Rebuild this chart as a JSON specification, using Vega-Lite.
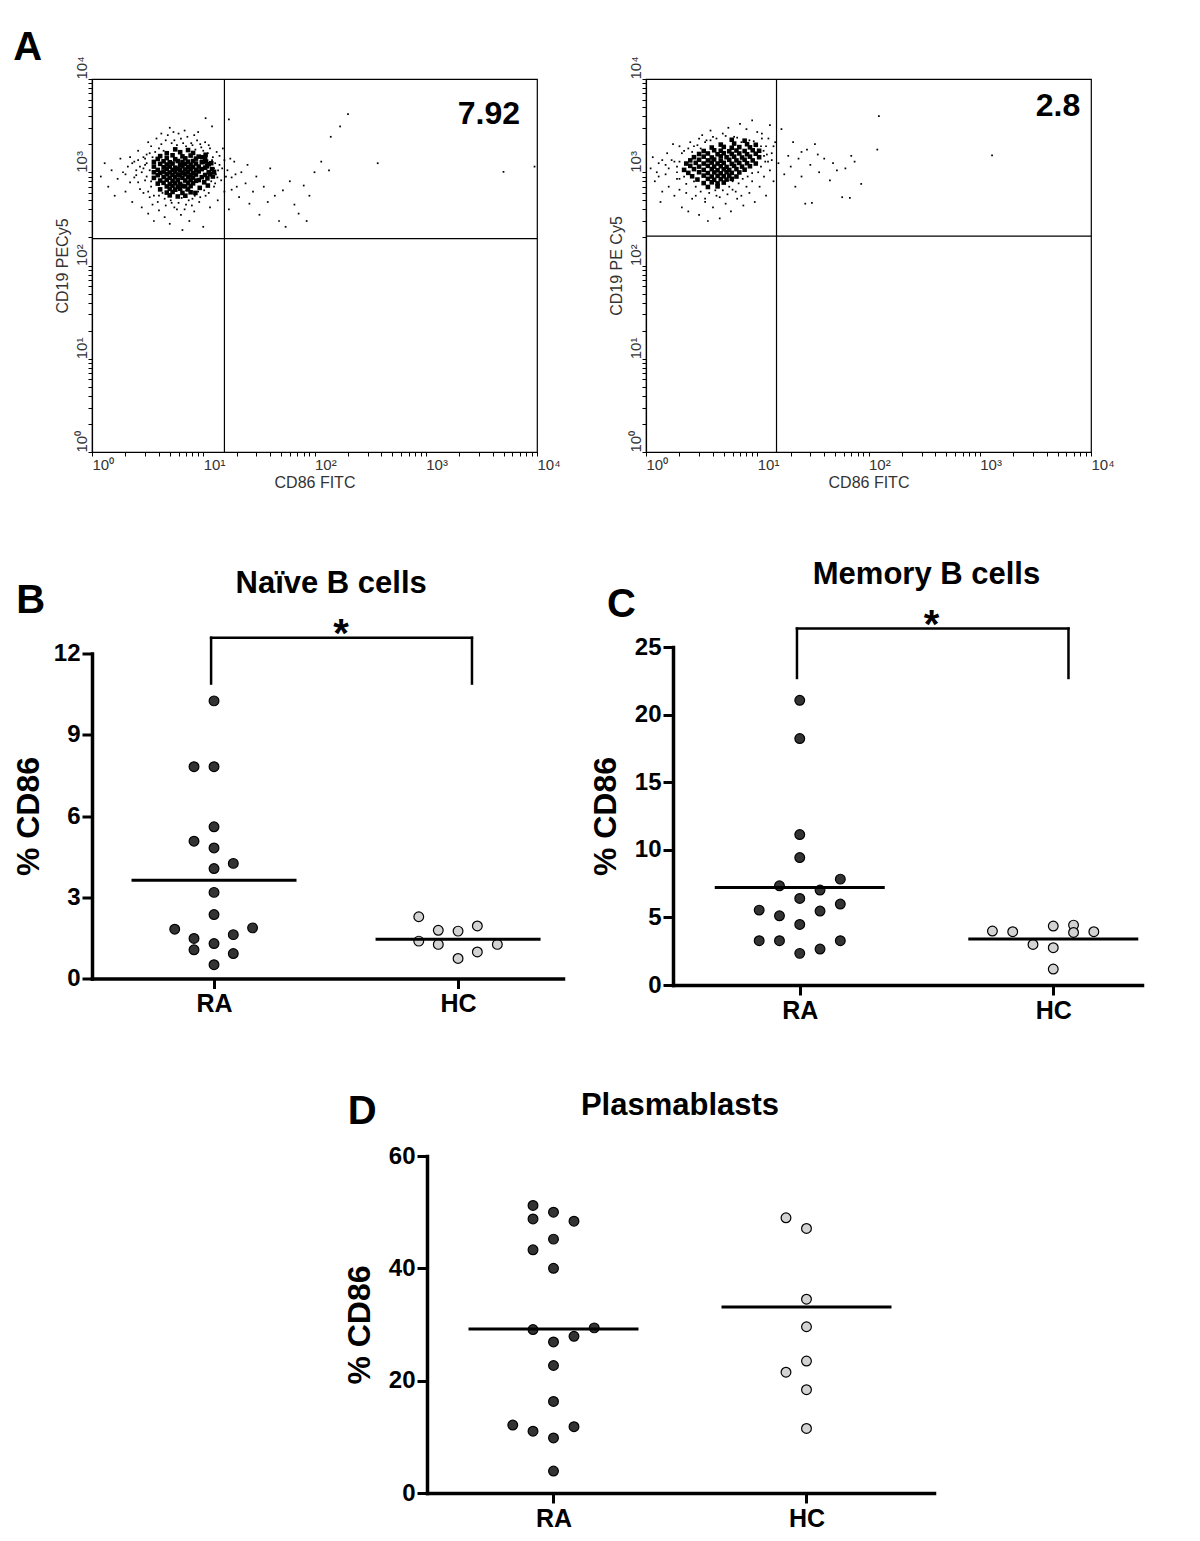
{
  "$schema": "https://vega.github.io/schema/vega-lite/v6.json",
  "background": "white",
  "padding": {"left": 12, "top": 27, "right": 5, "bottom": 5},
  "config": {"view": {"stroke": null}, "font": "Liberation Sans"},
  "datasets": {
    "flowL_core": [
      {"x":5.6,"y":1760},{"x":7.3,"y":1730},
      {"x":4.7,"y":1600},{"x":6.2,"y":1640},{"x":8.1,"y":1610},
      {"x":4.1,"y":1490},{"x":5.3,"y":1520},{"x":6.5,"y":1480},{"x":7.7,"y":1510},{"x":9.1,"y":1470},
      {"x":3.9,"y":1390},{"x":4.7,"y":1420},{"x":5.6,"y":1380},{"x":6.9,"y":1410},{"x":8.6,"y":1400},{"x":10.4,"y":1380},
      {"x":3.6,"y":1290},{"x":4.4,"y":1310},{"x":5.0,"y":1280},{"x":5.9,"y":1320},{"x":6.5,"y":1290},{"x":7.3,"y":1300},{"x":8.1,"y":1320},{"x":9.7,"y":1280},
      {"x":4.1,"y":1230},{"x":4.7,"y":1210},{"x":5.3,"y":1240},{"x":6.2,"y":1200},{"x":6.9,"y":1230},{"x":7.7,"y":1210},{"x":8.6,"y":1240},{"x":11.2,"y":1220},
      {"x":3.6,"y":1150},{"x":4.4,"y":1130},{"x":5.0,"y":1150},{"x":5.6,"y":1120},{"x":6.5,"y":1160},{"x":7.3,"y":1130},{"x":8.1,"y":1140},{"x":9.1,"y":1150},{"x":10.4,"y":1120},
      {"x":3.9,"y":1060},{"x":4.7,"y":1080},{"x":5.3,"y":1060},{"x":5.9,"y":1090},{"x":6.2,"y":1050},{"x":6.9,"y":1070},{"x":7.7,"y":1080},{"x":8.6,"y":1060},{"x":9.7,"y":1080},
      {"x":3.6,"y":1000},{"x":4.1,"y":985},{"x":4.4,"y":1015},{"x":5.0,"y":995},{"x":5.6,"y":1010},{"x":6.5,"y":990},{"x":7.3,"y":1005},{"x":8.1,"y":980},{"x":9.1,"y":1020},{"x":11.2,"y":1000},
      {"x":3.9,"y":930},{"x":4.7,"y":950},{"x":5.3,"y":935},{"x":5.9,"y":945},{"x":6.2,"y":925},{"x":6.9,"y":950},{"x":7.7,"y":930},{"x":8.6,"y":945},{"x":10.4,"y":935},
      {"x":3.6,"y":870},{"x":4.4,"y":890},{"x":5.0,"y":875},{"x":5.6,"y":885},{"x":6.5,"y":870},{"x":7.3,"y":890},{"x":8.1,"y":875},{"x":9.7,"y":885},
      {"x":4.1,"y":815},{"x":4.7,"y":830},{"x":5.3,"y":810},{"x":5.9,"y":825},{"x":6.9,"y":815},{"x":7.7,"y":830},{"x":8.6,"y":810},{"x":9.1,"y":825},
      {"x":3.9,"y":755},{"x":4.4,"y":770},{"x":5.0,"y":750},{"x":5.6,"y":765},{"x":6.2,"y":750},{"x":7.3,"y":770},{"x":8.1,"y":760},
      {"x":4.7,"y":705},{"x":5.3,"y":715},{"x":5.9,"y":700},{"x":6.5,"y":715},{"x":6.9,"y":705},{"x":7.7,"y":710},
      {"x":4.1,"y":655},{"x":5.0,"y":665},{"x":5.6,"y":650},{"x":6.2,"y":665},{"x":7.3,"y":655},
      {"x":4.7,"y":605},{"x":5.3,"y":615},{"x":6.5,"y":600},{"x":7.7,"y":610},
      {"x":5.0,"y":565},{"x":5.9,"y":550},{"x":6.9,"y":560},
      {"x":10.8,"y":1160},{"x":12.0,"y":1080},{"x":11.5,"y":950},{"x":12.5,"y":1010},{"x":10.9,"y":860},{"x":12.2,"y":900},{"x":10.2,"y":780},
      {"x":11.0,"y":720},{"x":10.6,"y":1300},{"x":11.8,"y":1250},{"x":9.8,"y":1450},{"x":10.5,"y":1540},{"x":9.3,"y":680},{"x":8.5,"y":600}
    ],
    "flowL_halo": [
      {"x":1.2,"y":900},{"x":1.3,"y":1250},{"x":1.4,"y":700},{"x":1.5,"y":1050},{"x":1.6,"y":560},{"x":1.7,"y":850},{"x":1.8,"y":1400},{"x":1.9,"y":1000},{"x":2.0,"y":620},{"x":2.1,"y":1150},
      {"x":2.2,"y":780},{"x":2.3,"y":480},{"x":2.4,"y":1300},{"x":2.5,"y":930},{"x":2.6,"y":1700},{"x":2.7,"y":660},{"x":2.8,"y":420},{"x":2.9,"y":1100},{"x":3.0,"y":820},{"x":3.1,"y":1550},
      {"x":3.2,"y":360},{"x":3.3,"y":540},{"x":3.4,"y":1900},{"x":3.5,"y":450},{"x":3.2,"y":2100},{"x":3.6,"y":300},{"x":3.8,"y":2300},{"x":4.0,"y":390},{"x":4.2,"y":2000},{"x":4.5,"y":330},
      {"x":4.8,"y":2500},{"x":5.0,"y":280},{"x":5.2,"y":470},{"x":5.5,"y":2200},{"x":5.8,"y":400},{"x":6.0,"y":2600},{"x":6.3,"y":350},{"x":6.6,"y":2050},{"x":7.0,"y":450},{"x":7.2,"y":2400},
      {"x":7.5,"y":300},{"x":8.0,"y":1950},{"x":8.3,"y":380},{"x":8.8,"y":2200},{"x":9.2,"y":480},{"x":9.6,"y":1850},{"x":10.0,"y":260},{"x":10.5,"y":560},{"x":11.0,"y":1600},{"x":11.5,"y":420},
      {"x":12.0,"y":1350},{"x":12.5,"y":700},{"x":13.0,"y":950},{"x":13.5,"y":500},{"x":14.0,"y":1200},{"x":14.5,"y":820},{"x":15.0,"y":1800},{"x":15.5,"y":620},{"x":16.5,"y":1050},{"x":17.0,"y":400},
      {"x":18.0,"y":880},{"x":19.0,"y":1300},{"x":20.0,"y":700},{"x":21.0,"y":540},{"x":22.0,"y":1000},{"x":24.0,"y":760},{"x":26.0,"y":460},{"x":28.0,"y":620},{"x":30.0,"y":900},{"x":32.0,"y":350},
      {"x":35.0,"y":700},{"x":38.0,"y":480},{"x":40.0,"y":1100},{"x":44.0,"y":560},{"x":48.0,"y":300},{"x":52.0,"y":640},{"x":55.0,"y":260},{"x":60.0,"y":800},{"x":66.0,"y":450},{"x":72.0,"y":360},
      {"x":80.0,"y":720},{"x":85.0,"y":300},{"x":90.0,"y":560},{"x":100.0,"y":1000},{"x":115.0,"y":1300},{"x":140.0,"y":2400},{"x":170.0,"y":3100},{"x":200.0,"y":4200},{"x":135.0,"y":1050},{"x":370.0,"y":1250},
      {"x":5000.0,"y":1010},{"x":9500.0,"y":1150},{"x":10.5,"y":3800},{"x":17.0,"y":3700},{"x":12.0,"y":3100},{"x":3.3,"y":1600},{"x":3.0,"y":1200},{"x":2.8,"y":1000},{"x":11.8,"y":800},{"x":12.5,"y":1100},
      {"x":11.5,"y":1800},{"x":9.0,"y":620},{"x":10.0,"y":1700},{"x":4.0,"y":1800},{"x":3.4,"y":700},{"x":8.0,"y":520},{"x":4.5,"y":520},{"x":6.5,"y":240},{"x":2.4,"y":880},{"x":14.0,"y":1500},
      {"x":18.0,"y":650},{"x":25.0,"y":1200},{"x":9.0,"y":2700},{"x":5.0,"y":3000},
      {"x":2.6,"y":1350},{"x":2.9,"y":1450},{"x":3.1,"y":1250},{"x":3.3,"y":1050},{"x":3.1,"y":900},{"x":3.4,"y":800},{"x":3.2,"y":620},{"x":3.6,"y":560},{"x":3.9,"y":480},{"x":4.3,"y":600},
      {"x":4.6,"y":440},{"x":5.1,"y":500},{"x":5.5,"y":420},{"x":6.0,"y":470},{"x":6.4,"y":530},{"x":6.8,"y":400},{"x":7.4,"y":500},{"x":7.9,"y":440},{"x":8.4,"y":560},{"x":9.4,"y":540},
      {"x":10.2,"y":640},{"x":11.2,"y":600},{"x":12.8,"y":760},{"x":13.4,"y":880},{"x":12.8,"y":1250},{"x":13.6,"y":1050},{"x":12.2,"y":1450},{"x":13.2,"y":1650},{"x":11.2,"y":1950},{"x":10.4,"y":2100},
      {"x":9.4,"y":2000},{"x":8.5,"y":1750},{"x":7.8,"y":2050},{"x":7.0,"y":1900},{"x":6.3,"y":2300},{"x":5.8,"y":1950},{"x":5.2,"y":2050},{"x":4.6,"y":2200},{"x":4.4,"y":1700},{"x":3.7,"y":1650},
      {"x":3.5,"y":1450},{"x":3.0,"y":1400},{"x":2.7,"y":1150},{"x":2.5,"y":1050},{"x":2.3,"y":1250},{"x":2.0,"y":950},{"x":2.2,"y":1450},{"x":2.6,"y":780},{"x":2.9,"y":600},{"x":4.0,"y":560},
      {"x":7.0,"y":640},{"x":14.8,"y":1100},{"x":16.0,"y":900},{"x":17.5,"y":1400},{"x":15.5,"y":1350},{"x":19.5,"y":950},{"x":8.3,"y":2500},{"x":6.8,"y":2800},{"x":5.4,"y":2700},{"x":4.2,"y":2600}
    ],
    "flowL_gate": [{"x": 15.5, "y": 194, "pct": "7.92"}],
    "flowR_core": [
      {"x":5.9,"y":2230},{"x":7.7,"y":2180},
      {"x":4.7,"y":1980},{"x":6.2,"y":2030},{"x":8.1,"y":2000},{"x":9.7,"y":1970},
      {"x":3.9,"y":1840},{"x":5.0,"y":1870},{"x":5.9,"y":1830},{"x":6.9,"y":1860},{"x":8.6,"y":1850},
      {"x":3.3,"y":1690},{"x":4.1,"y":1720},{"x":4.7,"y":1700},{"x":5.6,"y":1680},{"x":6.5,"y":1710},{"x":7.7,"y":1690},{"x":9.1,"y":1720},{"x":10.4,"y":1700},
      {"x":3.0,"y":1570},{"x":3.6,"y":1590},{"x":4.4,"y":1560},{"x":5.0,"y":1600},{"x":5.9,"y":1570},{"x":6.9,"y":1590},{"x":8.1,"y":1560},{"x":9.7,"y":1580},
      {"x":2.7,"y":1450},{"x":3.3,"y":1470},{"x":3.9,"y":1440},{"x":4.7,"y":1480},{"x":5.3,"y":1450},{"x":6.2,"y":1470},{"x":7.3,"y":1440},{"x":8.6,"y":1470},{"x":10.4,"y":1450},
      {"x":2.5,"y":1340},{"x":3.0,"y":1360},{"x":3.6,"y":1340},{"x":4.1,"y":1370},{"x":4.7,"y":1330},{"x":5.6,"y":1360},{"x":6.5,"y":1340},{"x":7.7,"y":1360},{"x":9.1,"y":1340},
      {"x":2.3,"y":1240},{"x":2.8,"y":1260},{"x":3.3,"y":1240},{"x":3.9,"y":1270},{"x":4.4,"y":1240},{"x":5.0,"y":1260},{"x":5.9,"y":1230},{"x":6.9,"y":1260},{"x":8.1,"y":1250},{"x":9.7,"y":1240},
      {"x":2.5,"y":1170},{"x":3.0,"y":1150},{"x":3.6,"y":1170},{"x":4.1,"y":1150},{"x":4.7,"y":1160},{"x":5.3,"y":1140},{"x":6.2,"y":1170},{"x":7.3,"y":1150},{"x":8.6,"y":1160},
      {"x":2.2,"y":1060},{"x":2.7,"y":1080},{"x":3.3,"y":1060},{"x":3.9,"y":1080},{"x":4.4,"y":1050},{"x":5.0,"y":1075},{"x":5.6,"y":1060},{"x":6.5,"y":1080},{"x":7.7,"y":1065},
      {"x":2.4,"y":985},{"x":3.0,"y":1000},{"x":3.6,"y":980},{"x":4.1,"y":995},{"x":4.7,"y":975},{"x":5.3,"y":1000},{"x":5.9,"y":985},{"x":6.9,"y":995},
      {"x":2.6,"y":905},{"x":3.3,"y":920},{"x":3.9,"y":900},{"x":4.4,"y":915},{"x":5.0,"y":905},{"x":5.6,"y":920},{"x":6.5,"y":900},
      {"x":2.9,"y":835},{"x":3.6,"y":850},{"x":4.1,"y":830},{"x":4.7,"y":845},{"x":5.3,"y":835},{"x":5.9,"y":850},
      {"x":3.3,"y":765},{"x":3.9,"y":780},{"x":4.4,"y":760},{"x":5.0,"y":775},
      {"x":3.6,"y":695},{"x":4.4,"y":705}
    ],
    "flowR_halo": [
      {"x":1.1,"y":1100},{"x":1.15,"y":1450},{"x":1.2,"y":800},{"x":1.3,"y":1250},{"x":1.35,"y":480},{"x":1.4,"y":620},{"x":1.5,"y":950},{"x":1.55,"y":1600},{"x":1.6,"y":700},{"x":1.7,"y":1350},
      {"x":1.75,"y":2000},{"x":1.8,"y":560},{"x":1.9,"y":1150},{"x":2.0,"y":850},{"x":2.1,"y":420},{"x":2.2,"y":1700},{"x":2.3,"y":600},{"x":2.4,"y":380},{"x":2.5,"y":2100},{"x":2.6,"y":520},
      {"x":2.8,"y":700},{"x":3.0,"y":350},{"x":3.2,"y":2500},{"x":3.4,"y":480},{"x":3.6,"y":300},{"x":3.8,"y":2800},{"x":4.0,"y":420},{"x":4.3,"y":560},{"x":4.6,"y":320},{"x":4.9,"y":2600},
      {"x":5.2,"y":460},{"x":5.5,"y":3000},{"x":5.8,"y":380},{"x":6.2,"y":2400},{"x":6.6,"y":520},{"x":7.0,"y":3300},{"x":7.5,"y":440},{"x":8.0,"y":2900},{"x":8.5,"y":600},{"x":9.0,"y":3600},
      {"x":9.5,"y":480},{"x":10.0,"y":2700},{"x":10.5,"y":700},{"x":11.0,"y":2300},{"x":11.5,"y":900},{"x":12.0,"y":1900},{"x":12.5,"y":1300},{"x":13.0,"y":1050},{"x":13.5,"y":1600},{"x":14.0,"y":800},
      {"x":14.5,"y":2100},{"x":15.5,"y":1250},{"x":16.5,"y":2900},{"x":17.5,"y":950},{"x":19.0,"y":1500},{"x":20.0,"y":1150},{"x":21.0,"y":2100},{"x":22.0,"y":700},{"x":23.5,"y":1400},{"x":25.0,"y":900},
      {"x":27.0,"y":460},{"x":28.0,"y":1750},{"x":30.0,"y":1200},{"x":31.0,"y":470},{"x":33.0,"y":2000},{"x":36.0,"y":1000},{"x":40.0,"y":1400},{"x":45.0,"y":820},{"x":48.0,"y":1250},{"x":52.0,"y":1050},
      {"x":58.0,"y":540},{"x":62.0,"y":1100},{"x":68.0,"y":530},{"x":70.0,"y":1500},{"x":75.0,"y":1300},{"x":86.0,"y":750},{"x":120.0,"y":1750},{"x":124.0,"y":4000},{"x":1290.0,"y":1520},{"x":25.0,"y":1650},
      {"x":35.0,"y":1550},{"x":2.0,"y":1300},{"x":1.9,"y":1000},{"x":12.0,"y":560},{"x":11.0,"y":2600},{"x":13.0,"y":3200},{"x":2.7,"y":1900},{"x":3.5,"y":2200},{"x":6.0,"y":650},{"x":7.2,"y":560},
      {"x":9.0,"y":800},{"x":11.5,"y":1500},{"x":4.0,"y":2400},{"x":1.3,"y":900},
      {"x":1.6,"y":1100},{"x":1.8,"y":1300},{"x":1.9,"y":850},{"x":2.1,"y":1600},{"x":2.0,"y":650},{"x":2.3,"y":750},{"x":2.2,"y":900},{"x":2.4,"y":1800},{"x":2.6,"y":1650},{"x":2.9,"y":1950},
      {"x":3.1,"y":1800},{"x":3.4,"y":2100},{"x":3.8,"y":2200},{"x":4.3,"y":2300},{"x":5.2,"y":2450},{"x":6.6,"y":2350},{"x":7.2,"y":2100},{"x":8.5,"y":2200},{"x":9.3,"y":2150},{"x":10.8,"y":1900},
      {"x":11.4,"y":1700},{"x":12.2,"y":1550},{"x":11.8,"y":1300},{"x":10.8,"y":1150},{"x":10.2,"y":1000},{"x":9.0,"y":980},{"x":8.2,"y":900},{"x":7.4,"y":850},{"x":6.8,"y":760},{"x":6.0,"y":800},
      {"x":5.6,"y":700},{"x":4.9,"y":640},{"x":4.2,"y":640},{"x":3.7,"y":600},{"x":3.1,"y":620},{"x":2.7,"y":800},{"x":2.8,"y":560},{"x":3.4,"y":520},{"x":4.6,"y":540},{"x":5.4,"y":580},
      {"x":6.4,"y":620},{"x":8.0,"y":700},{"x":13.5,"y":1350},{"x":14.0,"y":1900},{"x":12.6,"y":2300},{"x":3.0,"y":2300},{"x":2.0,"y":1900},{"x":1.4,"y":1350},{"x":1.25,"y":1000},{"x":1.5,"y":1200}
    ],
    "flowR_gate": [{"x": 14.9, "y": 207, "pct": "2.8"}],
    "naive": [
      {"group":"RA","pos":1.0,"value":10.25},{"group":"RA","pos":0.918,"value":7.82},{"group":"RA","pos":1.0,"value":7.82},
      {"group":"RA","pos":1.0,"value":5.6},{"group":"RA","pos":0.918,"value":5.07},{"group":"RA","pos":1.0,"value":4.82},
      {"group":"RA","pos":1.079,"value":4.25},{"group":"RA","pos":1.0,"value":4.06},{"group":"RA","pos":1.0,"value":3.18},
      {"group":"RA","pos":1.0,"value":2.36},{"group":"RA","pos":0.839,"value":1.82},{"group":"RA","pos":1.158,"value":1.87},
      {"group":"RA","pos":0.918,"value":1.48},{"group":"RA","pos":1.079,"value":1.62},{"group":"RA","pos":1.0,"value":1.29},
      {"group":"RA","pos":0.918,"value":1.06},{"group":"RA","pos":1.079,"value":0.92},{"group":"RA","pos":1.0,"value":0.51},
      {"group":"HC","pos":1.839,"value":2.28},{"group":"HC","pos":1.919,"value":1.78},{"group":"HC","pos":2.0,"value":1.75},
      {"group":"HC","pos":2.079,"value":1.94},{"group":"HC","pos":1.839,"value":1.38},{"group":"HC","pos":1.919,"value":1.26},
      {"group":"HC","pos":2.161,"value":1.26},{"group":"HC","pos":2.079,"value":0.98},{"group":"HC","pos":2.0,"value":0.74}
    ],
    "naive_mean": [{"group":"RA","pos":1,"mean":3.63},{"group":"HC","pos":2,"mean":1.45}],
    "naive_sig": [{"x1":0.988,"x2":2.057,"ytop":12.58,"ybot":10.89,"label":"*"}],
    "memory": [
      {"group":"RA","pos":1.0,"value":21.06},{"group":"RA","pos":1.0,"value":18.23},{"group":"RA","pos":1.0,"value":11.13},
      {"group":"RA","pos":1.0,"value":9.43},{"group":"RA","pos":1.16,"value":7.83},{"group":"RA","pos":0.92,"value":7.34},
      {"group":"RA","pos":1.08,"value":7.02},{"group":"RA","pos":1.0,"value":6.4},{"group":"RA","pos":1.16,"value":5.99},
      {"group":"RA","pos":0.84,"value":5.54},{"group":"RA","pos":1.08,"value":5.47},{"group":"RA","pos":0.92,"value":5.12},
      {"group":"RA","pos":1.0,"value":4.48},{"group":"RA","pos":0.84,"value":3.28},{"group":"RA","pos":0.92,"value":3.28},
      {"group":"RA","pos":1.16,"value":3.28},{"group":"RA","pos":1.08,"value":2.66},{"group":"RA","pos":1.0,"value":2.34},
      {"group":"HC","pos":1.76,"value":3.99},{"group":"HC","pos":1.84,"value":3.94},{"group":"HC","pos":2.0,"value":4.36},
      {"group":"HC","pos":2.08,"value":4.43},{"group":"HC","pos":2.08,"value":3.89},{"group":"HC","pos":2.16,"value":3.94},
      {"group":"HC","pos":1.92,"value":3.0},{"group":"HC","pos":2.0,"value":2.76},{"group":"HC","pos":2.0,"value":1.18}
    ],
    "memory_mean": [{"group":"RA","pos":1,"mean":7.22},{"group":"HC","pos":2,"mean":3.4}],
    "memory_sig": [{"x1":0.989,"x2":2.06,"ytop":26.36,"ybot":22.71,"label":"*"}],
    "plasma": [
      {"group":"RA","pos":0.919,"value":51.2},{"group":"RA","pos":1.0,"value":50.0},{"group":"RA","pos":0.919,"value":48.8},
      {"group":"RA","pos":1.081,"value":48.4},{"group":"RA","pos":1.0,"value":45.2},{"group":"RA","pos":0.919,"value":43.3},
      {"group":"RA","pos":1.0,"value":40.0},{"group":"RA","pos":0.919,"value":29.1},{"group":"RA","pos":1.161,"value":29.4},
      {"group":"RA","pos":1.081,"value":27.9},{"group":"RA","pos":1.0,"value":26.9},{"group":"RA","pos":1.0,"value":22.7},
      {"group":"RA","pos":1.0,"value":16.3},{"group":"RA","pos":0.839,"value":12.1},{"group":"RA","pos":1.081,"value":11.8},
      {"group":"RA","pos":0.919,"value":11.0},{"group":"RA","pos":1.0,"value":9.8},{"group":"RA","pos":1.0,"value":3.9},
      {"group":"HC","pos":1.919,"value":49.0},{"group":"HC","pos":2.0,"value":47.1},{"group":"HC","pos":2.0,"value":34.5},
      {"group":"HC","pos":2.0,"value":29.6},{"group":"HC","pos":2.0,"value":23.5},{"group":"HC","pos":1.919,"value":21.5},
      {"group":"HC","pos":2.0,"value":18.4},{"group":"HC","pos":2.0,"value":11.5}
    ],
    "plasma_mean": [{"group":"RA","pos":1,"mean":29.2},{"group":"HC","pos":2,"mean":33.1}]
  },
  "spacing": 67,
  "vconcat": [
    {
      "bounds": "flush",
      "spacing": 109,
      "hconcat": [
        {
          "width": 445, "height": 373,
          "view": {"stroke": "black", "strokeWidth": 1.2},
          "layer": [
            {"data": {"name": "flowL_halo"}, "mark": {"type": "square", "size": 3, "color": "black", "opacity": 1},
             "encoding": {
               "x": {"field": "x", "type": "quantitative", "title": "CD86 FITC", "scale": {"type": "log", "domain": [1, 10000], "nice": false},
                 "axis": {"values": [1,2,3,4,5,6,7,8,9,10,20,30,40,50,60,70,80,90,100,200,300,400,500,600,700,800,900,1000,2000,3000,4000,5000,6000,7000,8000,9000,10000],
                   "labelExpr": "datum.value == 1 ? '10⁰' : datum.value == 10 ? '10¹' : datum.value == 100 ? '10²' : datum.value == 1000 ? '10³' : datum.value == 10000 ? '10⁴' : ''",
                   "labelAlign": "left", "labelBaseline": "top", "labelPadding": 1, "labelFlush": false, "labelOverlap": false,
                   "labelFont": "Liberation Sans", "labelFontSize": 15, "labelColor": "#333333",
                   "tickSize": 4, "tickColor": "black", "tickWidth": 1, "domainColor": "black", "domainWidth": 1.2, "grid": false,
                   "titleFont": "Liberation Sans", "titleFontSize": 16, "titleFontWeight": "normal", "titleColor": "#333333", "titlePadding": 2}},
               "y": {"field": "y", "type": "quantitative", "title": "CD19 PECy5", "scale": {"type": "log", "domain": [1, 10000], "nice": false},
                 "axis": {"values": [1,2,3,4,5,6,7,8,9,10,20,30,40,50,60,70,80,90,100,200,300,400,500,600,700,800,900,1000,2000,3000,4000,5000,6000,7000,8000,9000,10000],
                   "labelExpr": "datum.value == 1 ? '10⁰' : datum.value == 10 ? '10¹' : datum.value == 100 ? '10²' : datum.value == 1000 ? '10³' : datum.value == 10000 ? '10⁴' : ''",
                   "labelAngle": 270, "labelAlign": "left", "labelBaseline": "alphabetic", "labelPadding": 2, "labelFlush": false, "labelOverlap": false,
                   "labelFont": "Liberation Sans", "labelFontSize": 15, "labelColor": "#333333",
                   "tickSize": 4, "tickColor": "black", "tickWidth": 1, "domainColor": "black", "domainWidth": 1.2, "grid": false,
                   "titleFont": "Liberation Sans", "titleFontSize": 16, "titleFontWeight": "normal", "titleColor": "#333333", "titlePadding": 4}}
             }},
            {"data": {"name": "flowL_core"}, "mark": {"type": "square", "size": 21, "color": "black", "opacity": 1},
             "encoding": {"x": {"field": "x", "type": "quantitative", "title": "CD86 FITC"}, "y": {"field": "y", "type": "quantitative", "title": "CD19 PECy5"}}},
            {"data": {"name": "flowL_gate"}, "mark": {"type": "rule", "color": "black", "strokeWidth": 1.2},
             "encoding": {"x": {"field": "x", "type": "quantitative", "title": "CD86 FITC"}}},
            {"data": {"name": "flowL_gate"}, "mark": {"type": "rule", "color": "black", "strokeWidth": 1.2},
             "encoding": {"y": {"field": "y", "type": "quantitative", "title": "CD19 PECy5"}}},
            {"data": {"name": "flowL_gate"}, "mark": {"type": "text", "align": "right", "baseline": "alphabetic", "font": "Liberation Sans", "fontSize": 32, "fontWeight": "bold", "color": "black"},
             "encoding": {"x": {"datum": 7030}, "y": {"datum": 3290}, "text": {"field": "pct"}}},
            {"data": {"values": [{"panel": "A"}]}, "mark": {"type": "text", "align": "left", "baseline": "alphabetic", "font": "Liberation Sans", "fontSize": 40, "fontWeight": "bold", "color": "black"},
             "encoding": {"x": {"datum": 0.196}, "y": {"datum": 15850}, "text": {"field": "panel"}}}
          ]
        },
        {
          "width": 445, "height": 373,
          "view": {"stroke": "black", "strokeWidth": 1.2},
          "layer": [
            {"data": {"name": "flowR_halo"}, "mark": {"type": "square", "size": 3, "color": "black", "opacity": 1},
             "encoding": {
               "x": {"field": "x", "type": "quantitative", "title": "CD86 FITC", "scale": {"type": "log", "domain": [1, 10000], "nice": false},
                 "axis": {"values": [1,2,3,4,5,6,7,8,9,10,20,30,40,50,60,70,80,90,100,200,300,400,500,600,700,800,900,1000,2000,3000,4000,5000,6000,7000,8000,9000,10000],
                   "labelExpr": "datum.value == 1 ? '10⁰' : datum.value == 10 ? '10¹' : datum.value == 100 ? '10²' : datum.value == 1000 ? '10³' : datum.value == 10000 ? '10⁴' : ''",
                   "labelAlign": "left", "labelBaseline": "top", "labelPadding": 1, "labelFlush": false, "labelOverlap": false,
                   "labelFont": "Liberation Sans", "labelFontSize": 15, "labelColor": "#333333",
                   "tickSize": 4, "tickColor": "black", "tickWidth": 1, "domainColor": "black", "domainWidth": 1.2, "grid": false,
                   "titleFont": "Liberation Sans", "titleFontSize": 16, "titleFontWeight": "normal", "titleColor": "#333333", "titlePadding": 2}},
               "y": {"field": "y", "type": "quantitative", "title": "CD19 PE Cy5", "scale": {"type": "log", "domain": [1, 10000], "nice": false},
                 "axis": {"values": [1,2,3,4,5,6,7,8,9,10,20,30,40,50,60,70,80,90,100,200,300,400,500,600,700,800,900,1000,2000,3000,4000,5000,6000,7000,8000,9000,10000],
                   "labelExpr": "datum.value == 1 ? '10⁰' : datum.value == 10 ? '10¹' : datum.value == 100 ? '10²' : datum.value == 1000 ? '10³' : datum.value == 10000 ? '10⁴' : ''",
                   "labelAngle": 270, "labelAlign": "left", "labelBaseline": "alphabetic", "labelPadding": 2, "labelFlush": false, "labelOverlap": false,
                   "labelFont": "Liberation Sans", "labelFontSize": 15, "labelColor": "#333333",
                   "tickSize": 4, "tickColor": "black", "tickWidth": 1, "domainColor": "black", "domainWidth": 1.2, "grid": false,
                   "titleFont": "Liberation Sans", "titleFontSize": 16, "titleFontWeight": "normal", "titleColor": "#333333", "titlePadding": 4}}
             }},
            {"data": {"name": "flowR_core"}, "mark": {"type": "square", "size": 21, "color": "black", "opacity": 1},
             "encoding": {"x": {"field": "x", "type": "quantitative", "title": "CD86 FITC"}, "y": {"field": "y", "type": "quantitative", "title": "CD19 PE Cy5"}}},
            {"data": {"name": "flowR_gate"}, "mark": {"type": "rule", "color": "black", "strokeWidth": 1.2},
             "encoding": {"x": {"field": "x", "type": "quantitative", "title": "CD86 FITC"}}},
            {"data": {"name": "flowR_gate"}, "mark": {"type": "rule", "color": "black", "strokeWidth": 1.2},
             "encoding": {"y": {"field": "y", "type": "quantitative", "title": "CD19 PE Cy5"}}},
            {"data": {"name": "flowR_gate"}, "mark": {"type": "text", "align": "right", "baseline": "alphabetic", "font": "Liberation Sans", "fontSize": 32, "fontWeight": "bold", "color": "black"},
             "encoding": {"x": {"datum": 8010}, "y": {"datum": 4010}, "text": {"field": "pct"}}}
          ]
        }
      ]
    },
    {
      "bounds": "flush",
      "spacing": 110,
      "center": true,
      "hconcat": [
        {
          "width": 471, "height": 325,
          "layer": [
            {"data": {"name": "naive"}, "mark": {"type": "circle", "size": 95, "stroke": "black", "strokeWidth": 1.2, "opacity": 1},
             "encoding": {
               "x": {"field": "pos", "type": "quantitative", "title": null, "scale": {"domain": [0.5, 2.43], "nice": false, "zero": false},
                 "axis": {"values": [1, 2], "labelExpr": "datum.value == 1 ? 'RA' : 'HC'", "grid": false, "domainColor": "black", "domainWidth": 3.5, "domainCap": "square",
                   "tickColor": "black", "tickWidth": 3, "tickSize": 10, "labelFont": "Liberation Sans", "labelFontSize": 25, "labelFontWeight": "bold", "labelColor": "black", "labelPadding": 3, "labelFlush": false}},
               "y": {"field": "value", "type": "quantitative", "title": "% CD86", "scale": {"domain": [0, 12], "nice": false},
                 "axis": {"values": [0, 3, 6, 9, 12], "grid": false, "domainColor": "black", "domainWidth": 3.5, "domainCap": "square",
                   "tickColor": "black", "tickWidth": 3, "tickSize": 10, "labelFont": "Liberation Sans", "labelFontSize": 24, "labelFontWeight": "bold", "labelColor": "black", "labelPadding": 2, "labelFlush": false,
                   "titleFont": "Liberation Sans", "titleFontSize": 32, "titleFontWeight": "bold", "titleColor": "black", "titlePadding": 8}},
               "fill": {"field": "group", "type": "nominal", "scale": {"domain": ["RA", "HC"], "range": ["#333333", "#d3d3d3"]}, "legend": null}
             }},
            {"data": {"name": "naive_mean"}, "mark": {"type": "tick", "orient": "horizontal", "size": 165, "thickness": 3, "color": "black", "opacity": 1},
             "encoding": {"x": {"field": "pos", "type": "quantitative", "title": null}, "y": {"field": "mean", "type": "quantitative", "title": "% CD86"}}},
            {"data": {"name": "naive_sig"}, "mark": {"type": "rule", "color": "black", "strokeWidth": 2.5, "strokeCap": "square"},
             "encoding": {"x": {"field": "x1", "type": "quantitative", "title": null}, "x2": {"field": "x2"}, "y": {"field": "ytop", "type": "quantitative", "title": "% CD86"}}},
            {"data": {"name": "naive_sig"}, "mark": {"type": "rule", "color": "black", "strokeWidth": 2.5, "strokeCap": "square"},
             "encoding": {"x": {"field": "x1", "type": "quantitative", "title": null}, "y": {"field": "ybot", "type": "quantitative", "title": "% CD86"}, "y2": {"field": "ytop"}}},
            {"data": {"name": "naive_sig"}, "mark": {"type": "rule", "color": "black", "strokeWidth": 2.5, "strokeCap": "square"},
             "encoding": {"x": {"field": "x2", "type": "quantitative", "title": null}, "y": {"field": "ybot", "type": "quantitative", "title": "% CD86"}, "y2": {"field": "ytop"}}},
            {"data": {"name": "naive_sig"}, "mark": {"type": "text", "align": "center", "baseline": "alphabetic", "font": "Liberation Sans", "fontSize": 40, "fontWeight": "bold", "color": "black"},
             "encoding": {"x": {"datum": 1.52}, "y": {"datum": 12.23}, "text": {"field": "label"}}},
            {"data": {"values": [{"title": "Naïve B cells"}]}, "mark": {"type": "text", "align": "center", "baseline": "alphabetic", "font": "Liberation Sans", "fontSize": 31, "fontWeight": "bold", "color": "black"},
             "encoding": {"x": {"datum": 1.48}, "y": {"datum": 14.25}, "text": {"field": "title"}}},
            {"data": {"values": [{"panel": "B"}]}, "mark": {"type": "text", "align": "left", "baseline": "alphabetic", "font": "Liberation Sans", "fontSize": 40, "fontWeight": "bold", "color": "black"},
             "encoding": {"x": {"datum": 0.19}, "y": {"datum": 13.48}, "text": {"field": "panel"}}}
          ]
        },
        {
          "width": 469, "height": 338,
          "layer": [
            {"data": {"name": "memory"}, "mark": {"type": "circle", "size": 95, "stroke": "black", "strokeWidth": 1.2, "opacity": 1},
             "encoding": {
               "x": {"field": "pos", "type": "quantitative", "title": null, "scale": {"domain": [0.5, 2.35], "nice": false, "zero": false},
                 "axis": {"values": [1, 2], "labelExpr": "datum.value == 1 ? 'RA' : 'HC'", "grid": false, "domainColor": "black", "domainWidth": 3.5, "domainCap": "square",
                   "tickColor": "black", "tickWidth": 3, "tickSize": 10, "labelFont": "Liberation Sans", "labelFontSize": 25, "labelFontWeight": "bold", "labelColor": "black", "labelPadding": 3, "labelFlush": false}},
               "y": {"field": "value", "type": "quantitative", "title": "% CD86", "scale": {"domain": [0, 25], "nice": false},
                 "axis": {"values": [0, 5, 10, 15, 20, 25], "grid": false, "domainColor": "black", "domainWidth": 3.5, "domainCap": "square",
                   "tickColor": "black", "tickWidth": 3, "tickSize": 10, "labelFont": "Liberation Sans", "labelFontSize": 24, "labelFontWeight": "bold", "labelColor": "black", "labelPadding": 2, "labelFlush": false,
                   "titleFont": "Liberation Sans", "titleFontSize": 32, "titleFontWeight": "bold", "titleColor": "black", "titlePadding": 12}},
               "fill": {"field": "group", "type": "nominal", "scale": {"domain": ["RA", "HC"], "range": ["#333333", "#d3d3d3"]}, "legend": null}
             }},
            {"data": {"name": "memory_mean"}, "mark": {"type": "tick", "orient": "horizontal", "size": 170, "thickness": 3, "color": "black", "opacity": 1},
             "encoding": {"x": {"field": "pos", "type": "quantitative", "title": null}, "y": {"field": "mean", "type": "quantitative", "title": "% CD86"}}},
            {"data": {"name": "memory_sig"}, "mark": {"type": "rule", "color": "black", "strokeWidth": 2.5, "strokeCap": "square"},
             "encoding": {"x": {"field": "x1", "type": "quantitative", "title": null}, "x2": {"field": "x2"}, "y": {"field": "ytop", "type": "quantitative", "title": "% CD86"}}},
            {"data": {"name": "memory_sig"}, "mark": {"type": "rule", "color": "black", "strokeWidth": 2.5, "strokeCap": "square"},
             "encoding": {"x": {"field": "x1", "type": "quantitative", "title": null}, "y": {"field": "ybot", "type": "quantitative", "title": "% CD86"}, "y2": {"field": "ytop"}}},
            {"data": {"name": "memory_sig"}, "mark": {"type": "rule", "color": "black", "strokeWidth": 2.5, "strokeCap": "square"},
             "encoding": {"x": {"field": "x2", "type": "quantitative", "title": null}, "y": {"field": "ybot", "type": "quantitative", "title": "% CD86"}, "y2": {"field": "ytop"}}},
            {"data": {"name": "memory_sig"}, "mark": {"type": "text", "align": "center", "baseline": "alphabetic", "font": "Liberation Sans", "fontSize": 40, "fontWeight": "bold", "color": "black"},
             "encoding": {"x": {"datum": 1.52}, "y": {"datum": 25.67}, "text": {"field": "label"}}},
            {"data": {"values": [{"title": "Memory B cells"}]}, "mark": {"type": "text", "align": "center", "baseline": "alphabetic", "font": "Liberation Sans", "fontSize": 31, "fontWeight": "bold", "color": "black"},
             "encoding": {"x": {"datum": 1.5}, "y": {"datum": 29.69}, "text": {"field": "title"}}},
            {"data": {"values": [{"panel": "C"}]}, "mark": {"type": "text", "align": "left", "baseline": "alphabetic", "font": "Liberation Sans", "fontSize": 40, "fontWeight": "bold", "color": "black"},
             "encoding": {"x": {"datum": 0.24}, "y": {"datum": 27.22}, "text": {"field": "panel"}}}
          ]
        }
      ]
    },
    {
      "bounds": "flush",
      "spacing": 100,
      "hconcat": [
        {"width": 235, "height": 1, "view": {"fill": "white", "stroke": null}, "data": {"values": []}, "mark": {"type": "point"}, "encoding": {}},
        {
          "width": 507, "height": 337,
          "layer": [
            {"data": {"name": "plasma"}, "mark": {"type": "circle", "size": 95, "stroke": "black", "strokeWidth": 1.2, "opacity": 1},
             "encoding": {
               "x": {"field": "pos", "type": "quantitative", "title": null, "scale": {"domain": [0.5, 2.504], "nice": false, "zero": false},
                 "axis": {"values": [1, 2], "labelExpr": "datum.value == 1 ? 'RA' : 'HC'", "grid": false, "domainColor": "black", "domainWidth": 3.5, "domainCap": "square",
                   "tickColor": "black", "tickWidth": 3, "tickSize": 10, "labelFont": "Liberation Sans", "labelFontSize": 25, "labelFontWeight": "bold", "labelColor": "black", "labelPadding": 3, "labelFlush": false}},
               "y": {"field": "value", "type": "quantitative", "title": "% CD86", "scale": {"domain": [0, 60], "nice": false},
                 "axis": {"values": [0, 20, 40, 60], "grid": false, "domainColor": "black", "domainWidth": 3.5, "domainCap": "square",
                   "tickColor": "black", "tickWidth": 3, "tickSize": 10, "labelFont": "Liberation Sans", "labelFontSize": 24, "labelFontWeight": "bold", "labelColor": "black", "labelPadding": 2, "labelFlush": false,
                   "titleFont": "Liberation Sans", "titleFontSize": 32, "titleFontWeight": "bold", "titleColor": "black", "titlePadding": 12}},
               "fill": {"field": "group", "type": "nominal", "scale": {"domain": ["RA", "HC"], "range": ["#333333", "#d3d3d3"]}, "legend": null}
             }},
            {"data": {"name": "plasma_mean"}, "mark": {"type": "tick", "orient": "horizontal", "size": 170, "thickness": 3, "color": "black", "opacity": 1},
             "encoding": {"x": {"field": "pos", "type": "quantitative", "title": null}, "y": {"field": "mean", "type": "quantitative", "title": "% CD86"}}},
            {"data": {"values": [{"title": "Plasmablasts"}]}, "mark": {"type": "text", "align": "center", "baseline": "alphabetic", "font": "Liberation Sans", "fontSize": 31, "fontWeight": "bold", "color": "black"},
             "encoding": {"x": {"datum": 1.5}, "y": {"datum": 67.25}, "text": {"field": "title"}}},
            {"data": {"values": [{"panel": "D"}]}, "mark": {"type": "text", "align": "left", "baseline": "alphabetic", "font": "Liberation Sans", "fontSize": 40, "fontWeight": "bold", "color": "black"},
             "encoding": {"x": {"datum": 0.187}, "y": {"datum": 65.65}, "text": {"field": "panel"}}}
          ]
        }
      ]
    }
  ]
}
